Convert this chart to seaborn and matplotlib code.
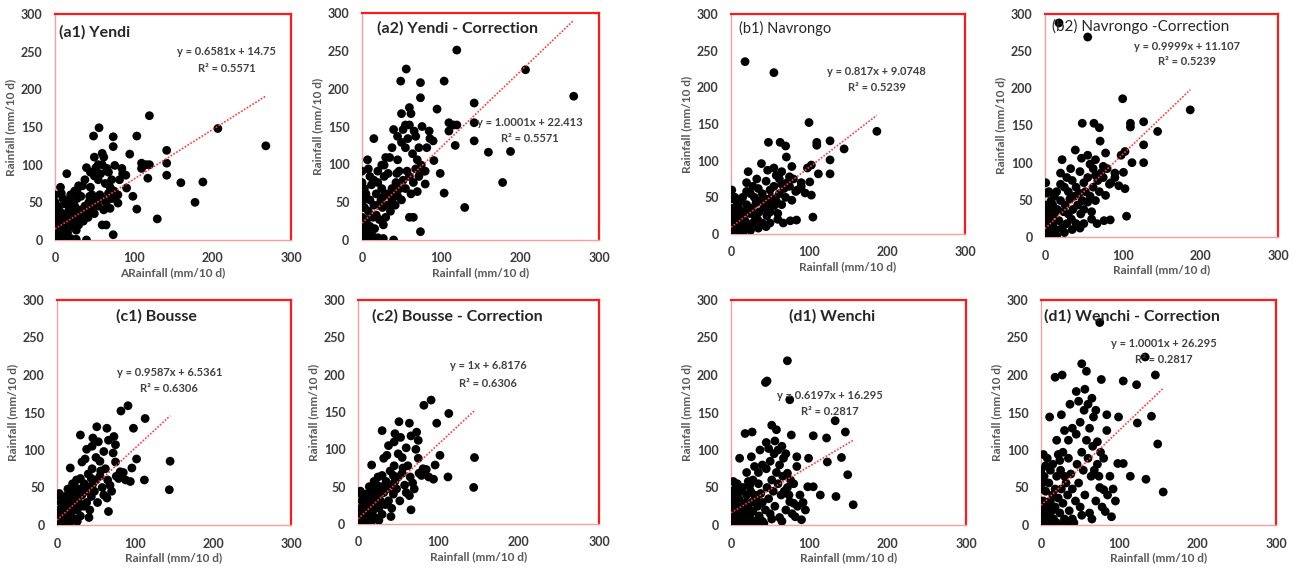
import numpy as np
import pandas as pd
import matplotlib
matplotlib.use('Agg')
import matplotlib.pyplot as plt
import seaborn as sns

nan = np.nan

# Yendi (a1 / a2)
yendi_x = [268, 207, 120, 188, 160, 178, 142, 142, 142, 104, 116, 118, 110, 120, 95, 104, 99, 130, 74, 74, 76, 74, 56, 49, 60, 62, 15, 90, 91, 78, 80, 70, 40, 27, 27, 86, 110, 65, 60, 52, 50, 45, 40, 35, 30, 68, 72, 64, 58, 55, 47, 43, 38, 33, 28, 25, 20, 18, 15, 12, 10, 8, 5, 3, 2, 1, 0, 0, 0, 0, 2, 4, 6, 8, 10, 12, 14, 16, 18, 20, 22, 24, 26, 28, 30, 32, 34, 36, 38, 40, 42, 45, 48, 50, 52, 55, 57, 60, 62, 65, 68, 70, 72, 75, 80, 82, 85, 20, 25, 30, 5, 8, 3, 10, 15, 45, 38, 28, 60, 66, 55, 44, 50, 7, 0, 0, 10, 20, 6]
yendi_y = [125, 148, 165, 77, 76, 50, 119, 102, 86, 138, 100, 82, 102, 100, 114, 41, 58, 28, 137, 124, 99, 7, 149, 138, 115, 110, 88, 86, 69, 60, 49, 42, 0, 1, 13, 88, 95, 20, 20, 96, 85, 70, 96, 72, 72, 90, 80, 75, 88, 80, 60, 50, 45, 58, 55, 45, 50, 40, 30, 48, 55, 62, 40, 28, 15, 5, 0, 10, 20, 28, 35, 8, 18, 25, 12, 5, 20, 10, 22, 30, 18, 35, 28, 38, 20, 30, 40, 25, 35, 40, 30, 38, 45, 35, 52, 45, 60, 55, 40, 50, 62, 70, 55, 65, 60, 80, 95, 60, 65, 40, 2, 5, 45, 35, 52, 90, 80, 65, 100, 95, 100, 58, 110, 70, 60, 50, 0, 2, 0]
yendi_y_corr = [190, 225, 251, 117, 116, 76, 181, 155, 131, 210, 152, 125, 155, 152, 173, 62, 88, 43, 208, 188, 150, 11, 226, 210, 175, 167, 134, 131, 105, 91, 74, 64, 0, 2, 20, 134, 144, 30, 30, 146, 129, 106, 146, 109, 109, 137, 122, 114, 134, 122, 91, 76, 68, 88, 84, 68, 76, 61, 46, 73, 84, 94, 61, 43, 23, 8, 0, 15, 30, 43, 53, 12, 27, 38, 18, 8, 30, 15, 33, 46, 27, 53, 43, 58, 30, 46, 61, 38, 53, 61, 46, 58, 68, 53, 79, 68, 91, 84, 61, 76, 94, 106, 84, 99, 91, 122, 144, 91, 99, 61, 3, 8, 68, 53, 79, 137, 122, 99, 152, 144, 152, 88, 167, 106, 91, 76, 0, 3, 0]

# Navrongo (b1 / b2)
nav_x = [18, 55, 100, 187, 145, 127, 127, 127, 110, 110, 112, 105, 103, 95, 101, 103, 48, 63, 70, 71, 78, 22, 1, 39, 47, 84, 76, 67, 83, 78, 62, 65, 58, 55, 50, 45, 40, 35, 30, 25, 20, 15, 12, 10, 8, 5, 3, 2, 0, 0, 0, 0, 1, 2, 4, 6, 8, 10, 12, 14, 16, 18, 20, 22, 24, 26, 28, 30, 32, 34, 36, 38, 40, 42, 44, 46, 48, 50, 52, 55, 58, 60, 62, 65, 68, 70, 72, 75, 80, 85, 90, 60, 45, 35, 25, 15, 5, 20, 28, 33, 55, 65, 75, 50, 90, 98, 5]
nav_y = [235, 220, 152, 140, 116, 127, 101, 82, 125, 121, 82, 23, 53, 56, 71, 94, 125, 125, 120, 105, 92, 85, 60, 96, 87, 19, 18, 15, 58, 46, 75, 68, 80, 65, 60, 72, 55, 62, 50, 55, 58, 50, 45, 35, 40, 30, 20, 10, 0, 5, 15, 25, 35, 48, 12, 22, 5, 15, 25, 8, 30, 18, 40, 10, 28, 35, 15, 25, 42, 20, 30, 45, 15, 35, 48, 25, 40, 30, 50, 38, 45, 28, 55, 40, 62, 50, 70, 65, 75, 60, 70, 20, 10, 8, 5, 2, 2, 70, 65, 75, 90, 85, 78, 15, 65, 90, 50]
nav_y_corr = [288, 269, 186, 171, 142, 155, 124, 100, 153, 148, 100, 28, 65, 69, 87, 115, 153, 153, 147, 129, 113, 104, 73, 117, 106, 23, 22, 18, 71, 56, 92, 83, 98, 80, 73, 88, 67, 76, 61, 67, 71, 61, 55, 43, 49, 37, 24, 12, 0, 6, 18, 31, 43, 59, 15, 27, 6, 18, 31, 10, 37, 22, 49, 12, 34, 43, 18, 31, 51, 24, 37, 55, 18, 43, 59, 31, 49, 37, 61, 47, 55, 34, 67, 49, 76, 61, 86, 80, 92, 73, 86, 24, 12, 10, 6, 2, 2, 86, 80, 92, 110, 104, 95, 18, 80, 110, 61]

# Bousse (c1 / c2)
bou_x = [91, 82, 113, 98, 145, 144, 112, 102, 96, 94, 30, 51, 64, 46, 53, 66, 73, 75, 75, 38, 32, 17, 66, 41, 64, 79, 81, 68, 72, 55, 50, 45, 40, 35, 30, 28, 25, 22, 20, 18, 15, 12, 10, 8, 6, 5, 4, 3, 2, 1, 0, 0, 0, 1, 3, 6, 8, 10, 12, 14, 16, 18, 20, 22, 24, 26, 28, 30, 32, 34, 36, 38, 40, 42, 44, 46, 48, 50, 52, 55, 58, 60, 62, 65, 70, 76, 85, 88, 36, 44, 56, 26, 18, 10, 14, 45, 60, 20, 25]
bou_y = [159, 152, 142, 129, 85, 47, 60, 88, 76, 58, 120, 131, 129, 116, 111, 113, 118, 107, 84, 101, 84, 76, 18, 10, 36, 62, 71, 53, 96, 85, 90, 75, 68, 55, 62, 48, 40, 52, 45, 35, 42, 30, 38, 25, 15, 30, 10, 20, 5, 2, 0, 8, 15, 40, 42, 35, 8, 18, 10, 22, 28, 15, 25, 8, 32, 20, 30, 12, 40, 25, 45, 30, 50, 20, 38, 55, 45, 60, 30, 65, 50, 40, 75, 60, 45, 65, 70, 60, 88, 62, 72, 5, 5, 2, 48, 105, 98, 55, 60]
bou_y_corr = [166, 159, 148, 135, 89, 49, 63, 92, 79, 60, 125, 137, 135, 121, 116, 118, 123, 112, 88, 105, 88, 79, 19, 10, 38, 65, 74, 55, 100, 89, 94, 78, 71, 57, 65, 50, 42, 54, 47, 37, 44, 31, 40, 26, 16, 31, 10, 21, 5, 2, 0, 8, 16, 42, 44, 37, 8, 19, 10, 23, 29, 16, 26, 8, 33, 21, 31, 13, 42, 26, 47, 31, 52, 21, 40, 57, 47, 63, 31, 68, 52, 42, 78, 63, 47, 68, 73, 63, 92, 65, 75, 5, 5, 2, 50, 110, 102, 57, 63]

# Wenchi (d1 / d2); corrected values above 300 are off the chart
wen_x = [72, 46, 44, 75, 133, 146, 122, 105, 77, 141, 123, 149, 156, 134, 114, 105, 98, 99, 84, 18, 27, 52, 58, 82, 90, 75, 80, 84, 72, 48, 37, 26, 11, 6, 3, 22, 24, 67, 60, 65, 55, 50, 45, 40, 35, 30, 28, 25, 20, 18, 15, 12, 10, 8, 6, 5, 4, 3, 2, 1, 0, 0, 0, 0, 0, 1, 2, 3, 5, 7, 9, 10, 12, 14, 16, 18, 20, 22, 24, 26, 28, 30, 32, 34, 36, 38, 40, 42, 44, 46, 48, 50, 52, 54, 56, 58, 60, 62, 64, 66, 68, 70, 72, 74, 76, 78, 80, 85, 88, 92, 95, 62, 70, 56, 45, 35, 30, 15, 8, 12, 25, 35, 40, 20, 52, 65]
wen_y = [219, 192, 190, 167, 139, 124, 116, 119, 120, 90, 84, 67, 27, 38, 40, 51, 51, 89, 91, 122, 124, 133, 127, 11, 7, 31, 29, 78, 69, 102, 100, 91, 89, 49, 58, 58, 53, 89, 100, 105, 95, 85, 75, 80, 70, 78, 60, 45, 40, 30, 25, 20, 35, 15, 28, 10, 40, 20, 5, 0, 0, 10, 20, 30, 45, 15, 35, 2, 0, 5, 8, 0, 3, 12, 5, 15, 2, 22, 10, 30, 18, 5, 35, 25, 12, 42, 30, 2, 20, 50, 35, 15, 60, 45, 25, 70, 55, 10, 40, 65, 45, 20, 50, 40, 60, 15, 55, 25, 40, 30, 20, 80, 95, 112, 110, 55, 40, 50, 55, 45, 0, 0, 5, 70, 8, 5]
wen_y_corr = [nan, nan, nan, 270, 224, 200, 187, 192, 194, 145, 136, 108, 44, 61, 65, 82, 82, 144, 147, 197, 200, 215, 205, 18, 11, 50, 47, 126, 111, 165, 161, 147, 144, 79, 94, 94, 86, 144, 161, 169, 153, 137, 121, 129, 113, 126, 97, 73, 65, 48, 40, 32, 56, 24, 45, 16, 65, 32, 8, 0, 0, 16, 32, 48, 73, 24, 56, 3, 0, 8, 13, 0, 5, 19, 8, 24, 3, 36, 16, 48, 29, 8, 56, 40, 19, 68, 48, 3, 32, 81, 56, 24, 97, 73, 40, 113, 89, 16, 65, 105, 73, 32, 81, 65, 97, 24, 89, 40, 65, 48, 32, 129, 153, 181, 178, 89, 65, 81, 89, 73, 0, 0, 8, 113, 13, 8]

titles = ['(a1) Yendi', '(a2) Yendi - Correction', '(b1) Navrongo', '(b2) Navrongo -Correction',
          '(c1) Bousse', '(c2) Bousse - Correction', '(d1) Wenchi', '(d1) Wenchi - Correction']
equations = ['y = 0.6581x + 14.75', 'y = 1.0001x + 22.413', 'y = 0.817x + 9.0748', 'y = 0.9999x + 11.107',
             'y = 0.9587x + 6.5361', 'y = 1x + 6.8176', 'y = 0.6197x + 16.295', 'y = 1.0001x + 26.295']
r_squared = ['0.5571', '0.5571', '0.5239', '0.5239', '0.6306', '0.6306', '0.2817', '0.2817']
slopes = [0.6581, 1.0001, 0.817, 0.9999, 0.9587, 1.0, 0.6197, 1.0001]
intercepts = [14.75, 22.413, 9.0748, 11.107, 6.5361, 6.8176, 16.295, 26.295]
x_labels = ['ARainfall (mm/10 d)'] + ['Rainfall (mm/10 d)'] * 7
y_label = 'Rainfall (mm/10 d)'

series = [(yendi_x, yendi_y), (yendi_x, yendi_y_corr), (nav_x, nav_y), (nav_x, nav_y_corr),
          (bou_x, bou_y), (bou_x, bou_y_corr), (wen_x, wen_y), (wen_x, wen_y_corr)]

# layout: axes rect in pixels (left, top, right, bottom) on a 1296x570 canvas
W, H = 1296, 570
rects = [(55, 14, 291, 240), (362, 13, 599, 240), (731, 14, 965, 234), (1045, 14, 1278, 237),
         (57, 300, 291, 525), (358, 300, 599, 524), (731, 300, 966, 525), (1041, 300, 1276, 525)]
# title: (x, y, ha, weight, size)
title_pos = [(5, 276, 'left', 'bold', 11.5), (19, 280, 'left', 'bold', 11.5),
             (10, 280, 'left', 'normal', 10.5), (9, 283, 'left', 'normal', 11),
             (128, 278, 'center', 'bold', 11.5), (17, 278, 'left', 'bold', 11.5),
             (129, 278, 'center', 'bold', 11.5), (4, 278, 'left', 'bold', 11.5)]
eq_pos = [(218, 250, 227), (213, 155, 134), (187, 221, 200), (183, 256, 236),
          (144, 204, 182), (162, 212, 188), (126, 173, 151), (157, 242, 221)]

sns.set_theme(style='white')
plt.rcParams['font.family'] = ['Lato', 'DejaVu Sans']

fig = plt.figure(figsize=(W / 100, H / 100), dpi=100)

for i, (xs, ys) in enumerate(series):
    l, t, r, b = rects[i]
    ax = fig.add_axes([l / W, 1 - b / H, (r - l) / W, (b - t) / H])
    df = pd.DataFrame({'x': xs, 'y': ys})
    sns.scatterplot(data=df, x='x', y='y', ax=ax, color='black', s=40, edgecolor='none', zorder=3)

    xl = np.array([0, max(xs)])
    ax.plot(xl, slopes[i] * xl + intercepts[i], color='#ff3b3b', linestyle=(0, (1, 1)), lw=1.2, zorder=4)

    ax.set_xlim(0, 300)
    ax.set_ylim(0, 300)
    ax.set_xticks([0, 100, 200, 300])
    ax.set_yticks([0, 50, 100, 150, 200, 250, 300])
    ax.tick_params(length=0, pad=9, labelsize=9, labelcolor='#3a3a3a')
    for lab in ax.get_xticklabels() + ax.get_yticklabels():
        lab.set_fontweight('bold')
    ax.set_xlabel(x_labels[i], fontsize=8.5, color='#595959', fontweight='bold', labelpad=2)
    ax.set_ylabel(y_label, fontsize=8.5, color='#595959', fontweight='bold', labelpad=3)

    for side in ['top', 'right']:
        ax.spines[side].set_color('#ff1a1a')
        ax.spines[side].set_linewidth(1.6)
    for side in ['left', 'bottom']:
        ax.spines[side].set_color('#f2a0a0')
        ax.spines[side].set_linewidth(1.0)

    tx, ty, ha, wt, sz = title_pos[i]
    ax.text(tx, ty, titles[i], ha=ha, va='center', fontsize=sz, fontweight=wt, color='#262626', zorder=5)

    ex, ey1, ey2 = eq_pos[i]
    ax.text(ex, ey1, equations[i], ha='center', va='center', fontsize=8, fontweight='bold', color='#404040', zorder=5)
    ax.text(ex, ey2, 'R\u00b2 = ' + r_squared[i], ha='center', va='center', fontsize=8, fontweight='bold', color='#404040', zorder=5)

fig.savefig('out.png', dpi=100)
